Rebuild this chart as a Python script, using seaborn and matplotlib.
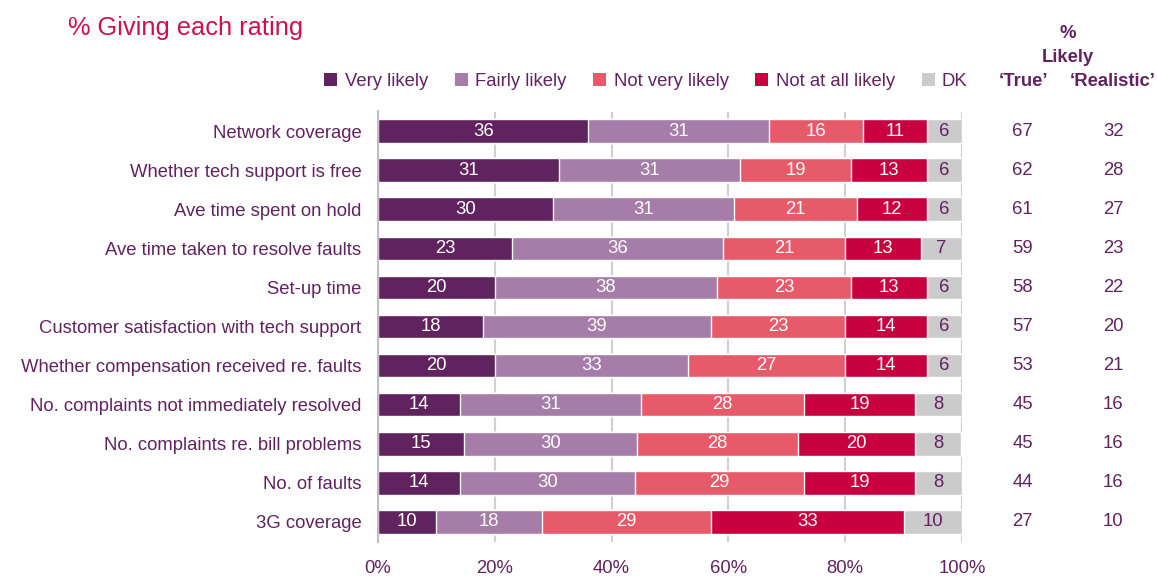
import matplotlib
matplotlib.use("Agg")
import matplotlib.pyplot as plt
from matplotlib.patches import Patch
import numpy as np
import pandas as pd
import seaborn as sns

# Data
categories = [
    "Network coverage",
    "Whether tech support is free",
    "Ave time spent on hold",
    "Ave time taken to resolve faults",
    "Set-up time",
    "Customer satisfaction with tech support",
    "Whether compensation received re. faults",
    "No. complaints not immediately resolved",
    "No. complaints re. bill problems",
    "No. of faults",
    "3G coverage",
]
very_likely = [36, 31, 30, 23, 20, 18, 20, 14, 14.7, 14, 10]
fairly_likely = [31, 31, 31, 36, 38, 39, 33, 31, 29.6, 30, 18]
not_very_likely = [16, 19, 21, 21, 23, 23, 27, 28, 27.6, 29, 29]
not_at_all_likely = [11, 13, 12, 13, 13, 14, 14, 19, 20, 19, 33]
dk = [6, 6, 6, 7, 6, 6, 6, 8, 8, 8, 10]
likely_true = [67, 62, 61, 59, 58, 57, 53, 45, 45, 44, 27]
likely_realistic = [32, 28, 27, 23, 22, 20, 21, 16, 16, 16, 10]

series_names = ["Very likely", "Fairly likely", "Not very likely", "Not at all likely", "DK"]
colors = ["#612360", "#A67CA8", "#E65A69", "#C8003F", "#CBCBCB"]
label_colors = ["white", "white", "white", "white", "#612360"]
purple = "#612360"
fs = 13.3

df = pd.DataFrame(
    {
        "Very likely": very_likely,
        "Fairly likely": fairly_likely,
        "Not very likely": not_very_likely,
        "Not at all likely": not_at_all_likely,
        "DK": dk,
    },
    index=categories,
)
cum = df.cumsum(axis=1)

sns.set_style("white")
plt.rcParams["font.family"] = ["Liberation Sans", "DejaVu Sans"]

fig = plt.figure(figsize=(11.57, 5.76), dpi=100)
ax = fig.add_axes([378 / 1157, 1 - 541.5 / 576, 584 / 1157, 430 / 576])

# stacked bars: draw cumulative totals from the right-most segment backwards
for name, color in reversed(list(zip(series_names, colors))):
    sns.barplot(
        x=cum[name].values,
        y=categories,
        orient="h",
        color=color,
        width=0.6,
        ax=ax,
        saturation=1,
        zorder=2,
    )

# segment labels
for name, tc in zip(series_names, label_colors):
    centers = cum[name] - df[name] / 2
    for i, (c, v) in enumerate(zip(centers, df[name])):
        ax.text(c, i, f"{v:.0f}", ha="center", va="center", color=tc, fontsize=fs, zorder=3)

ax.set_xlim(0, 100)
ax.set_ylim(10.5, -0.5)
ax.set_xlabel("")
ax.set_ylabel("")
ax.set_xticks(np.arange(0, 101, 20))
ax.set_xticklabels([f"{t}%" for t in range(0, 101, 20)])
ax.set_yticks(range(len(categories)))
ax.set_yticklabels(categories)
ax.set_yticks(np.arange(-0.5, 11, 1), minor=True)
ax.tick_params(axis="y", which="major", length=0, pad=12, labelsize=fs, labelcolor=purple)
ax.tick_params(axis="y", which="minor", length=6, width=1.5, color="#BFBFBF")
ax.tick_params(axis="x", length=0, pad=13, labelsize=fs, labelcolor=purple)

for s in ["top", "right", "bottom"]:
    ax.spines[s].set_visible(False)
ax.spines["left"].set_color("#BFBFBF")
ax.spines["left"].set_linewidth(1.5)
ax.grid(axis="x", color="#D0D0D0", linewidth=1.5)
ax.set_axisbelow(True)

# right-hand "% Likely" columns
x_true, x_real = 110.4, 125.9
for i in range(len(categories)):
    ax.text(x_true, i, f"{likely_true[i]}", ha="center", va="center",
            color=purple, fontsize=fs, clip_on=False)
    ax.text(x_real, i, f"{likely_realistic[i]}", ha="center", va="center",
            color=purple, fontsize=fs, clip_on=False)

fig.text(1068 / 1157, 1 - 33 / 576, "%", ha="center", va="center",
         color=purple, fontsize=fs, fontweight="bold")
fig.text(1068 / 1157, 1 - 57 / 576, "Likely", ha="center", va="center",
         color=purple, fontsize=fs, fontweight="bold")
fig.text(1023 / 1157, 1 - 81 / 576, "\u2018True\u2019", ha="center", va="center",
         color=purple, fontsize=fs, fontweight="bold")
fig.text(1113 / 1157, 1 - 81 / 576, "\u2018Realistic\u2019", ha="center", va="center",
         color=purple, fontsize=fs, fontweight="bold")

# title
fig.text(68 / 1157, 1 - 28 / 576, "% Giving each rating", ha="left", va="center",
         color="#D0104C", fontsize=18.3)

# legend
handles = [Patch(facecolor=c, edgecolor="none") for c in colors]
leg = fig.legend(
    handles,
    series_names,
    loc="center",
    bbox_to_anchor=(646 / 1157, 1 - 81 / 576),
    ncol=5,
    frameon=False,
    fontsize=fs,
    handlelength=0.7,
    handleheight=0.7,
    handletextpad=0.4,
    columnspacing=1.45,
)
for t in leg.get_texts():
    t.set_color(purple)

fig.savefig("out.png", dpi=100)
